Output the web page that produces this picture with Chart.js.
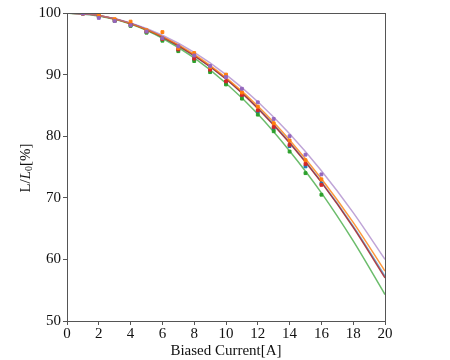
<!DOCTYPE html>
<html>
<head>
<meta charset="utf-8">
<script src="https://cdn.jsdelivr.net/npm/chart.js@4"></script>
<style>
  body { margin: 0; background: #fff; }
</style>
</head>
<body>
<canvas id="chart" width="450" height="360"></canvas>
<script>
// measured points (integer current, 1..16 A)
const currents = [1, 2, 3, 4, 5, 6, 7, 8, 9, 10, 11, 12, 13, 14, 15, 16];
const purplePts = [99.9, 99.2, 98.7, 98.0, 97.0, 95.9, 94.6, 93.1, 91.4, 89.6, 87.7, 85.5, 82.8, 80.0, 77.0, 73.8];
const orangePts = [99.9, 99.6, 99.0, 98.6, 97.2, 96.9, 94.3, 93.5, 91.2, 90.0, 87.1, 84.8, 82.1, 79.3, 76.1, 73.0];
const redPts    = [99.9, 99.5, 98.8, 98.1, 97.0, 95.8, 94.1, 92.6, 90.8, 88.9, 86.7, 84.2, 81.5, 78.6, 75.5, 72.1];
const bluePts   = [99.9, 99.5, 98.8, 98.0, 96.9, 95.7, 94.0, 92.5, 90.7, 88.8, 86.6, 84.0, 81.3, 78.4, 75.1, 72.3];
const greenPts  = [99.9, 99.4, 98.7, 97.9, 96.8, 95.5, 93.8, 92.2, 90.4, 88.4, 86.1, 83.5, 80.8, 77.5, 74.0, 70.5];

// fitted curves, read every 2 A
const fitX = [0, 2, 4, 6, 8, 10, 12, 14, 16, 18, 20];
const purpleFit = [100, 99.6, 98.4, 96.4, 93.6, 90.0, 85.6, 80.4, 74.4, 67.6, 60.0];
const orangeFit = [100, 99.6, 98.3, 96.2, 93.3, 89.5, 84.9, 79.4, 73.1, 66.0, 58.1];
const redFit    = [100, 99.6, 98.3, 96.1, 93.1, 89.3, 84.5, 78.9, 72.5, 65.2, 57.0];
const blueFit   = [100, 99.6, 98.3, 96.1, 93.1, 89.3, 84.6, 79.0, 72.6, 65.4, 57.3];
const greenFit  = [100, 99.5, 98.2, 95.9, 92.7, 88.6, 83.6, 77.6, 70.8, 63.0, 54.3];

const xTicks = [0, 2, 4, 6, 8, 10, 12, 14, 16, 18, 20];
const yTicks = [50, 60, 70, 80, 90, 100];

const serif = '"Liberation Serif", "DejaVu Serif", serif';

function pairs(xs, ys) {
  return xs.map((x, i) => ({ x: x, y: ys[i] }));
}

function fitLine(ys, color) {
  return {
    type: 'line',
    data: pairs(fitX, ys),
    borderColor: color,
    borderWidth: 1.5,
    pointRadius: 0,
    cubicInterpolationMode: 'monotone',
    fill: false
  };
}

function markers(ys, color) {
  return {
    type: 'scatter',
    data: pairs(currents, ys),
    backgroundColor: color,
    borderColor: color,
    pointRadius: 2,
    pointStyle: 'rect'
  };
}

// box around the plot area + y title with italic L and subscript 0
const frame = {
  id: 'frame',
  afterDatasetsDraw(chart) {
    const a = chart.chartArea;
    const ctx = chart.ctx;
    ctx.save();
    ctx.strokeStyle = '#555';
    ctx.lineWidth = 1;
    ctx.strokeRect(a.left + 0.5, a.top + 0.5, a.right - a.left, a.bottom - a.top);
    ctx.restore();
  },
  afterDraw(chart) {
    const ctx = chart.ctx;
    const parts = [
      { t: 'L/', f: '15px ' + serif, dy: 0 },
      { t: 'L', f: 'italic 15px ' + serif, dy: 0 },
      { t: '0', f: '10px ' + serif, dy: 3 },
      { t: '[%]', f: '15px ' + serif, dy: 0 }
    ];
    let total = 0;
    parts.forEach(p => { ctx.font = p.f; p.w = ctx.measureText(p.t).width; total += p.w; });
    ctx.save();
    ctx.translate(26, 168);
    ctx.rotate(-Math.PI / 2);
    ctx.fillStyle = '#111';
    ctx.textBaseline = 'middle';
    let x = -total / 2;
    parts.forEach(p => {
      ctx.font = p.f;
      ctx.fillText(p.t, x, p.dy);
      x += p.w;
    });
    ctx.restore();
  }
};

new Chart(document.getElementById('chart'), {
  data: {
    datasets: [
      markers(purplePts, '#9467bd'),
      markers(orangePts, '#ff7f0e'),
      markers(redPts, '#d62728'),
      markers(greenPts, '#2ca02c'),
      markers(bluePts, '#1f77b4'),
      fitLine(purpleFit, 'rgba(148,103,189,0.6)'),
      fitLine(orangeFit, 'rgba(255,127,14,0.8)'),
      fitLine(redFit, 'rgba(165,35,45,0.85)'),
      fitLine(greenFit, 'rgba(44,160,44,0.7)'),
      fitLine(blueFit, 'rgba(31,119,180,0.6)')
    ]
  },
  options: {
    responsive: false,
    animation: false,
    layout: { padding: { left: 0, right: 65, top: 13, bottom: 0 } },
    plugins: {
      legend: { display: false },
      tooltip: { enabled: false }
    },
    scales: {
      x: {
        type: 'linear',
        min: 0,
        max: 20,
        afterBuildTicks(scale) { scale.ticks = xTicks.map(v => ({ value: v })); },
        afterFit(scale) { scale.height = 39; },
        grid: { drawOnChartArea: false, drawTicks: true, tickLength: 4, color: '#555' },
        border: { color: '#555' },
        ticks: { color: '#111', font: { family: serif, size: 15 }, padding: 0, maxRotation: 0 },
        title: { display: true, text: 'Biased Current[A]', color: '#111', font: { family: serif, size: 15 }, padding: { top: -2, bottom: 0 } }
      },
      y: {
        type: 'linear',
        min: 50,
        max: 100,
        afterBuildTicks(scale) { scale.ticks = yTicks.map(v => ({ value: v })); },
        afterFit(scale) { scale.width = 67; },
        grid: { drawOnChartArea: false, drawTicks: true, tickLength: 4, color: '#555' },
        border: { color: '#555' },
        ticks: { color: '#111', font: { family: serif, size: 15 }, padding: 2 },
        title: { display: false }
      }
    }
  },
  plugins: [frame]
});
</script>
</body>
</html>
